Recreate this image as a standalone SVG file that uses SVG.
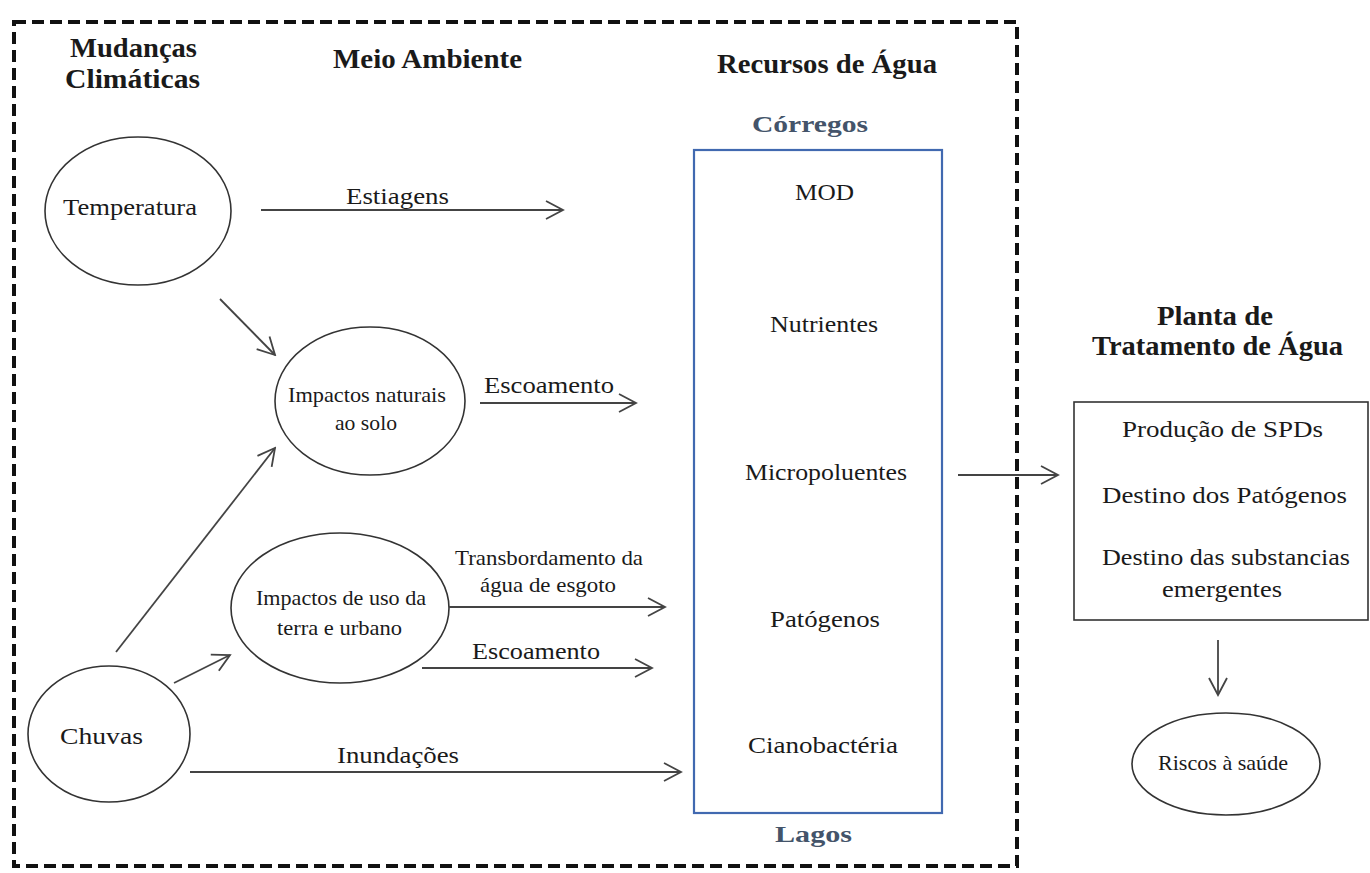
<svg xmlns="http://www.w3.org/2000/svg" width="1370" height="873" viewBox="0 0 1370 873">
<defs>
<style>
text{font-family:"Liberation Serif","Times New Roman",serif;fill:#1a1a1a}
.t{font-size:24px}
.s{font-size:22px}
.h{font-size:27px;font-weight:bold}
.b{font-size:24px;font-weight:bold;fill:#44546a}
.node{fill:#fff;stroke:#333;stroke-width:1.6}
.conn line{stroke:#444;stroke-width:1.8;marker-end:url(#arr)}
</style>
<marker id="arr" viewBox="-19 -11 21 22" refX="0" refY="0" markerWidth="21" markerHeight="22" markerUnits="userSpaceOnUse" orient="auto">
<path d="M-17,-9 L0,0 L-17,9" fill="none" stroke="#444" stroke-width="1.8"/>
</marker>
</defs>
<rect width="1370" height="873" fill="#fff"/>
<rect id="frame" x="14" y="22" width="1003" height="844" fill="none" stroke="#111" stroke-width="4" stroke-dasharray="12 6"/>

<g id="headings">
<text class="h" x="70" y="57" textLength="127" lengthAdjust="spacingAndGlyphs">Mudanças</text>
<text class="h" x="65" y="88" textLength="135" lengthAdjust="spacingAndGlyphs">Climáticas</text>
<text class="h" x="333" y="68" textLength="189" lengthAdjust="spacingAndGlyphs">Meio Ambiente</text>
<text class="h" x="717" y="73" textLength="220" lengthAdjust="spacingAndGlyphs">Recursos de Água</text>
<text class="h" x="1157" y="325" textLength="116" lengthAdjust="spacingAndGlyphs">Planta de</text>
<text class="h" x="1092" y="355" textLength="251" lengthAdjust="spacingAndGlyphs">Tratamento de Água</text>
</g>

<g id="temperatura">
<ellipse class="node" cx="138" cy="211" rx="93" ry="74"/>
<text class="t" x="63" y="215" textLength="134" lengthAdjust="spacingAndGlyphs">Temperatura</text>
</g>

<g id="chuvas">
<ellipse class="node" cx="109" cy="734" rx="81" ry="68"/>
<text class="t" x="60" y="744" textLength="83" lengthAdjust="spacingAndGlyphs">Chuvas</text>
</g>

<g id="impactos-naturais">
<ellipse class="node" cx="370" cy="401" rx="95" ry="74"/>
<text class="s" x="288" y="402" textLength="158" lengthAdjust="spacingAndGlyphs">Impactos naturais</text>
<text class="s" x="335" y="430" textLength="62" lengthAdjust="spacingAndGlyphs">ao solo</text>
</g>

<g id="impactos-uso">
<ellipse class="node" cx="340" cy="608" rx="109" ry="75"/>
<text class="s" x="256" y="605" textLength="170" lengthAdjust="spacingAndGlyphs">Impactos de uso da</text>
<text class="s" x="277" y="635" textLength="125" lengthAdjust="spacingAndGlyphs">terra e urbano</text>
</g>

<g id="recursos">
<text class="b" x="752" y="132" textLength="116" lengthAdjust="spacingAndGlyphs">Córregos</text>
<rect x="694" y="150" width="248" height="663" fill="none" stroke="#4169b0" stroke-width="2.2"/>
<text class="t" x="795" y="200" textLength="59" lengthAdjust="spacingAndGlyphs">MOD</text>
<text class="t" x="770" y="332" textLength="108" lengthAdjust="spacingAndGlyphs">Nutrientes</text>
<text class="t" x="745" y="480" textLength="162" lengthAdjust="spacingAndGlyphs">Micropoluentes</text>
<text class="t" x="770" y="627" textLength="110" lengthAdjust="spacingAndGlyphs">Patógenos</text>
<text class="t" x="748" y="753" textLength="150" lengthAdjust="spacingAndGlyphs">Cianobactéria</text>
<text class="b" x="775" y="842" textLength="77" lengthAdjust="spacingAndGlyphs">Lagos</text>
</g>

<g id="planta">
<rect x="1074" y="402" width="294" height="218" fill="#fff" stroke="#333" stroke-width="1.6"/>
<text class="t" x="1122" y="437" textLength="201" lengthAdjust="spacingAndGlyphs">Produção de SPDs</text>
<text class="t" x="1102" y="503" textLength="245" lengthAdjust="spacingAndGlyphs">Destino dos Patógenos</text>
<text class="t" x="1102" y="565" textLength="248" lengthAdjust="spacingAndGlyphs">Destino das substancias</text>
<text class="t" x="1162" y="597" textLength="120" lengthAdjust="spacingAndGlyphs">emergentes</text>
</g>

<g id="riscos">
<ellipse class="node" cx="1226" cy="764" rx="94" ry="51"/>
<text class="s" x="1158" y="770" textLength="130" lengthAdjust="spacingAndGlyphs">Riscos à saúde</text>
</g>

<g id="connectors" class="conn">
<line x1="261" y1="210" x2="563" y2="210"/>
<line x1="220" y1="299" x2="275" y2="355"/>
<line x1="480" y1="403" x2="636" y2="403"/>
<line x1="116" y1="652" x2="275" y2="448"/>
<line x1="449" y1="607" x2="665" y2="607"/>
<line x1="422" y1="668" x2="652" y2="668"/>
<line x1="174" y1="683" x2="230" y2="655"/>
<line x1="190" y1="772" x2="681" y2="772"/>
<line x1="958" y1="475" x2="1058" y2="475"/>
<line x1="1218" y1="640" x2="1218" y2="695"/>
</g>
<g id="connector-labels" class="t">
<text class="t" x="346" y="204" textLength="103" lengthAdjust="spacingAndGlyphs">Estiagens</text>
<text class="t" x="484" y="393" textLength="130" lengthAdjust="spacingAndGlyphs">Escoamento</text>
<text class="s" x="455" y="565" textLength="188" lengthAdjust="spacingAndGlyphs">Transbordamento da</text>
<text class="s" x="480" y="592" textLength="136" lengthAdjust="spacingAndGlyphs">água de esgoto</text>
<text class="t" x="472" y="659" textLength="128" lengthAdjust="spacingAndGlyphs">Escoamento</text>
<text class="t" x="337" y="763" textLength="122" lengthAdjust="spacingAndGlyphs">Inundações</text>
</g>
</svg>
